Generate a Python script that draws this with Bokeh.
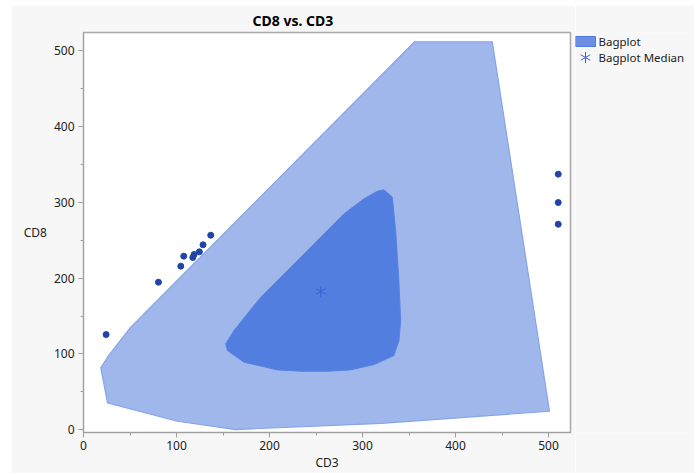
import math
from bokeh.plotting import figure
from bokeh.models import Range1d, FixedTicker, Spacer
from bokeh.layouts import row, column
from bokeh.core.properties import value
from bokeh.embed import file_html
from bokeh.resources import INLINE

# Outer fence (fence polygon) vertices
fence_x = [356, 439.5, 501, 320, 163.7, 101, 25.8, 18.6, 25.8, 31.2, 50.8]
fence_y = [511.5, 511.5, 24.5, 8.5, 0.4, 11.3, 35.6, 81.7, 95.7, 104.4, 135.3]

# Bag polygon vertices
bag_x = [323, 332.1, 335.6, 339.1, 341, 339.2, 333.8, 312.3, 287.2, 262.2, 233.5, 208.5,
         172.6, 154.7, 152.9, 161.8, 190.5, 233.5, 280, 301.5, 315.9]
bag_y = [316.4, 306.6, 262.7, 196.8, 144, 117.7, 97.9, 86, 79, 77.2, 77.2, 79,
         89.1, 104.5, 113.4, 130.9, 174.8, 227.5, 284.7, 304.5, 314.5]

# Median
median_x = [255]
median_y = [182.3]

# Outlier points
pts_x = [24.3, 80.6, 104.6, 107.8, 117.5, 118.9, 124.6, 128.5, 136.8, 510.4, 510.4, 510.4]
pts_y = [125.6, 194.6, 215.7, 228.9, 227.1, 231.1, 234.6, 243.9, 256.5, 337, 299.6, 271]

x_ticks = [0, 100, 200, 300, 400, 500]
y_ticks = [0, 100, 200, 300, 400, 500]
minor = [50, 150, 250, 350, 450]

legend_labels = ["Bagplot", "Bagplot Median"]

FONT = "Noto Sans"
BG = "#f7f7f7"
FENCE_FILL, FENCE_LINE = "#a0b7ec", "#86a4ea"
BAG_FILL, BAG_LINE = "#527edf", "#5a84e2"
PT_COLOR = "#2244a8"
MED_COLOR = "#3a63d6"
STAR_ANGLES = [math.pi / 2, math.pi / 6, -math.pi / 6]

p = figure(width=564, height=468, output_backend="svg", toolbar_location=None,
           x_range=Range1d(0, 523.6), y_range=Range1d(-3.5, 523.7),
           min_border_left=72, min_border_right=5, min_border_top=27, min_border_bottom=41,
           title="CD8 vs. CD3")

p.background_fill_color = "white"
p.border_fill_color = BG
p.outline_line_color = "#a8a8a8"
p.outline_line_width = 1.5
p.grid.visible = False

p.title.align = "left"
p.title.text_font = FONT
p.title.text_font_size = "14px"
p.title.text_font_style = "bold"
p.title.text_color = "black"
p.title.offset = 169
p.title.standoff = 5

p.patch(fence_x, fence_y, fill_color=FENCE_FILL, line_color=FENCE_LINE, line_width=1.2)
p.patch(bag_x, bag_y, fill_color=BAG_FILL, line_color=BAG_LINE, line_width=1)
p.scatter(pts_x, pts_y, size=6, fill_color=PT_COLOR, line_color=PT_COLOR)
p.scatter(median_x * 3, median_y * 3, marker="dash", angle=STAR_ANGLES, size=11,
          line_color=MED_COLOR, line_width=1)

for ax in (p.xaxis, p.yaxis):
    ax.axis_line_color = "#a0a0a0"
    ax.major_tick_line_color = "#a0a0a0"
    ax.minor_tick_line_color = "#a0a0a0"
    ax.major_tick_out = 5
    ax.major_tick_in = 0
    ax.minor_tick_out = 3
    ax.minor_tick_in = 0
    ax.major_label_text_font = FONT
    ax.major_label_text_font_size = "12px"
    ax.major_label_text_color = "#222222"
    ax.axis_label_text_font = FONT
    ax.axis_label_text_font_size = "12px"
    ax.axis_label_text_font_style = "normal"
    ax.axis_label_text_color = "#222222"

p.xaxis.ticker = FixedTicker(ticks=x_ticks, minor_ticks=minor)
p.yaxis.ticker = FixedTicker(ticks=y_ticks, minor_ticks=minor)
p.xaxis.axis_label = "CD3"
p.yaxis.axis_label = "CD8"
p.yaxis.axis_label_orientation = "horizontal"
p.xaxis.major_label_standoff = 3
p.yaxis.major_label_standoff = 4
p.xaxis.axis_label_standoff = 1
p.yaxis.axis_label_standoff = 4

# Legend panel: its frame is aligned with the main frame (page y 32..432),
# so the y range is expressed in page pixels, growing downward.
lg = figure(width=119, height=468, output_backend="svg", toolbar_location=None, title=None,
            x_axis_location=None, y_axis_location=None,
            x_range=Range1d(0, 119), y_range=Range1d(432, 32),
            min_border_left=0, min_border_right=0, min_border_top=27, min_border_bottom=41)
lg.grid.visible = False
lg.outline_line_color = None
lg.background_fill_color = BG
lg.border_fill_color = BG

lg.rect(x=[10], y=[41], width=20, height=10, fill_color="#6a8ee4", line_color="#4f79dc", line_width=1)
lg.scatter(x=[10] * 3, y=[57] * 3, marker="dash", angle=STAR_ANGLES, size=11,
           line_color=MED_COLOR, line_width=1)
lg.text(x=[23, 23], y=[41, 57], text=legend_labels, text_font=value(FONT),
        text_font_size="11.5px", text_baseline="middle", text_align="left", text_color="#222222")

layout = column(Spacer(height=5), row(Spacer(width=11), p, lg))

open("out.html", "w").write(file_html(layout, INLINE))
